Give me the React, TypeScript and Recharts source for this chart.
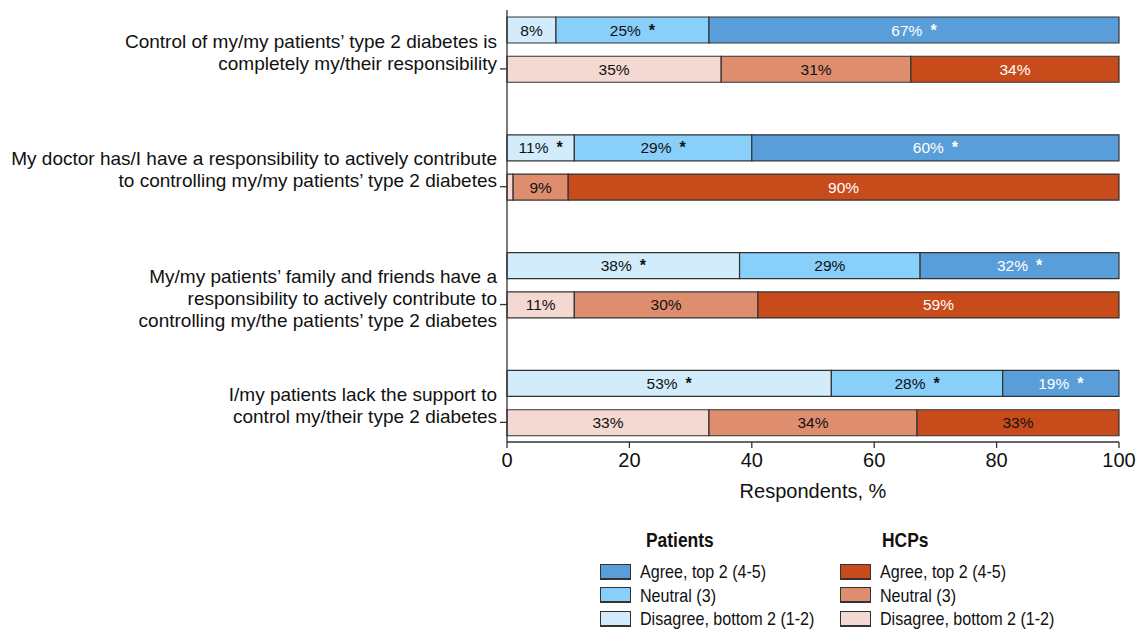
import { BarChart, Bar, XAxis, YAxis, Cell, LabelList } from 'recharts'

const statements = [
  ['Control of my/my patients\u2019 type 2 diabetes is', 'completely my/their responsibility'],
  ['My doctor has/I have a responsibility to actively contribute', 'to controlling my/my patients\u2019 type 2 diabetes'],
  ['My/my patients\u2019 family and friends have a', 'responsibility to actively contribute to', 'controlling my/the patients\u2019 type 2 diabetes'],
  ['I/my patients lack the support to', 'control my/their type 2 diabetes'],
]

// bar widths, % of respondents
const patientDisagree = [8, 11, 38, 53]
const patientNeutral = [25, 29, 29.5, 28]
const patientAgree = [67, 60, 32.5, 19]
const hcpDisagree = [35, 1, 11, 33]
const hcpNeutral = [31, 9, 30, 34]
const hcpAgree = [34, 90, 59, 33]

// printed labels (* = significant difference)
const patientDisagreeLabels = ['8%', '11% *', '38% *', '53% *']
const patientNeutralLabels = ['25% *', '29% *', '29%', '28% *']
const patientAgreeLabels = ['67% *', '60% *', '32% *', '19% *']
const hcpDisagreeLabels = ['35%', '', '11%', '33%']
const hcpNeutralLabels = ['31%', '9%', '30%', '34%']
const hcpAgreeLabels = ['34%', '90%', '59%', '33%']

const xTicks = [0, 20, 40, 60, 80, 100]

const legendItems = ['Agree, top 2 (4-5)', 'Neutral (3)', 'Disagree, bottom 2 (1-2)']

const PATIENT_COLORS = { agree: '#5A9ED9', neutral: '#88CFFA', disagree: '#D2ECFC' }
const HCP_COLORS = { agree: '#C84B1C', neutral: '#DE8E6E', disagree: '#F4D8D2' }
const HCP_AGREE_INK = ['#fff', '#fff', '#fff', '#111']
const FONT = "'Liberation Sans', Arial, Helvetica, sans-serif"

type Row = {
  row: string
  group: number
  who: 'p' | 'h' | 'gap'
  disagree: number
  neutral: number
  agree: number
  disagreeLabel: string
  neutralLabel: string
  agreeLabel: string
}

const rows: Row[] = []
statements.forEach((_, g) => {
  rows.push({
    row: `p${g}`, group: g, who: 'p',
    disagree: patientDisagree[g], neutral: patientNeutral[g], agree: patientAgree[g],
    disagreeLabel: patientDisagreeLabels[g], neutralLabel: patientNeutralLabels[g], agreeLabel: patientAgreeLabels[g],
  })
  rows.push({
    row: `h${g}`, group: g, who: 'h',
    disagree: hcpDisagree[g], neutral: hcpNeutral[g], agree: hcpAgree[g],
    disagreeLabel: hcpDisagreeLabels[g], neutralLabel: hcpNeutralLabels[g], agreeLabel: hcpAgreeLabels[g],
  })
  if (g < statements.length - 1) {
    rows.push({
      row: `gap${g}`, group: g, who: 'gap',
      disagree: 0, neutral: 0, agree: 0, disagreeLabel: '', neutralLabel: '', agreeLabel: '',
    })
  }
})

type Key = 'disagree' | 'neutral' | 'agree'

function inkFor(key: Key, r: Row) {
  if (key !== 'agree') return '#111'
  if (r.who === 'p') return '#fff'
  return HCP_AGREE_INK[r.group]
}

// LabelList gets the row id as value, so the label is looked up by row, not by index
const makeLabel = (key: Key) => (props: any) => {
  const { x, y, width, height, value } = props
  const r = rows.find(d => d.row === value)
  if (!r || !width) return null
  const text = r[`${key}Label` as const]
  if (!text) return null
  const star = text.endsWith('*')
  const main = text.replace(' *', '')
  return (
    <text
      x={x + width / 2}
      y={y + height / 2}
      dy="0.36em"
      textAnchor="middle"
      fontSize={15.5}
      fontFamily={FONT}
      fill={inkFor(key, r)}
    >
      {main}
      {star && <tspan dx={8} fontWeight="bold" fontSize={16}>*</tspan>}
    </text>
  )
}

function StatementTick(props: any) {
  const { x, y, payload } = props
  const r = rows.find(d => d.row === payload.value)
  if (!r || r.who !== 'h') return <g />
  const axisX = x + 8
  const lines = statements[r.group]
  return (
    <g>
      <line x1={axisX - 7} x2={axisX} y1={y} y2={y} stroke="#333" strokeWidth={1.3} />
      <text textAnchor="end" fontSize={19} fontFamily={FONT} fill="#111">
        {lines.map((line, i) => (
          <tspan key={i} x={axisX - 10} y={y - 6 + (i - 1) * 22} dy="0.35em">
            {line}
          </tspan>
        ))}
      </text>
    </g>
  )
}

const narrow: any = { display: 'inline-block', transform: 'scaleX(0.87)', transformOrigin: 'left center', whiteSpace: 'nowrap' }

function LegendColumn({ title, colors, left, titleLeft }: any) {
  const swatchColors = [colors.agree, colors.neutral, colors.disagree]
  return (
    <>
      <div
        style={{
          position: 'absolute', left: titleLeft, top: 529,
          fontWeight: 'bold', fontSize: 20, color: '#111', ...narrow,
        }}
      >
        {title}
      </div>
      {legendItems.map((item, i) => (
        <div key={item} style={{ position: 'absolute', left, top: 563 + i * 23.5, display: 'flex', alignItems: 'center' }}>
          <div
            style={{
              width: 29, height: 13, background: swatchColors[i], border: '1.5px solid #333',
              borderBottomWidth: 2.5, marginRight: 9, flexShrink: 0,
            }}
          />
          <span style={{ fontSize: 18.5, color: '#111', lineHeight: '17px', ...narrow }}>{item}</span>
        </div>
      ))}
    </>
  )
}

export default function App() {
  return (
    <div style={{ position: 'relative', width: 1138, height: 629, overflow: 'hidden', fontFamily: FONT }}>
      <style>{'body { margin: 0; }'}</style>
      <BarChart
        width={1138}
        height={508}
        data={rows}
        layout="vertical"
        barSize={26}
        margin={{ top: 10, right: 19, bottom: 6, left: 0 }}
      >
        <XAxis
          type="number"
          domain={[0, 100]}
          ticks={xTicks}
          height={60}
          tick={{ fontSize: 20, fill: '#111', fontFamily: FONT }}
          tickMargin={5}
          stroke="#333"
          strokeWidth={1.3}
          label={{ value: 'Respondents, %', position: 'insideBottom', offset: 4, fontSize: 20, fill: '#111', fontFamily: FONT }}
        />
        <YAxis
          type="category"
          dataKey="row"
          width={507}
          tick={<StatementTick />}
          tickLine={false}
          interval={0}
          stroke="#333"
          strokeWidth={1.3}
        />
        {(['disagree', 'neutral', 'agree'] as Key[]).map(key => (
          <Bar key={key} dataKey={key} stackId="a" stroke="#333" strokeWidth={1.2} isAnimationActive={false}>
            {rows.map(r => (
              <Cell key={r.row} fill={r.who === 'h' ? HCP_COLORS[key] : PATIENT_COLORS[key]} />
            ))}
            <LabelList dataKey="row" content={makeLabel(key)} />
          </Bar>
        ))}
      </BarChart>
      <LegendColumn title="Patients" colors={PATIENT_COLORS} left={600} titleLeft={646} />
      <LegendColumn title="HCPs" colors={HCP_COLORS} left={840} titleLeft={882} />
    </div>
  )
}
